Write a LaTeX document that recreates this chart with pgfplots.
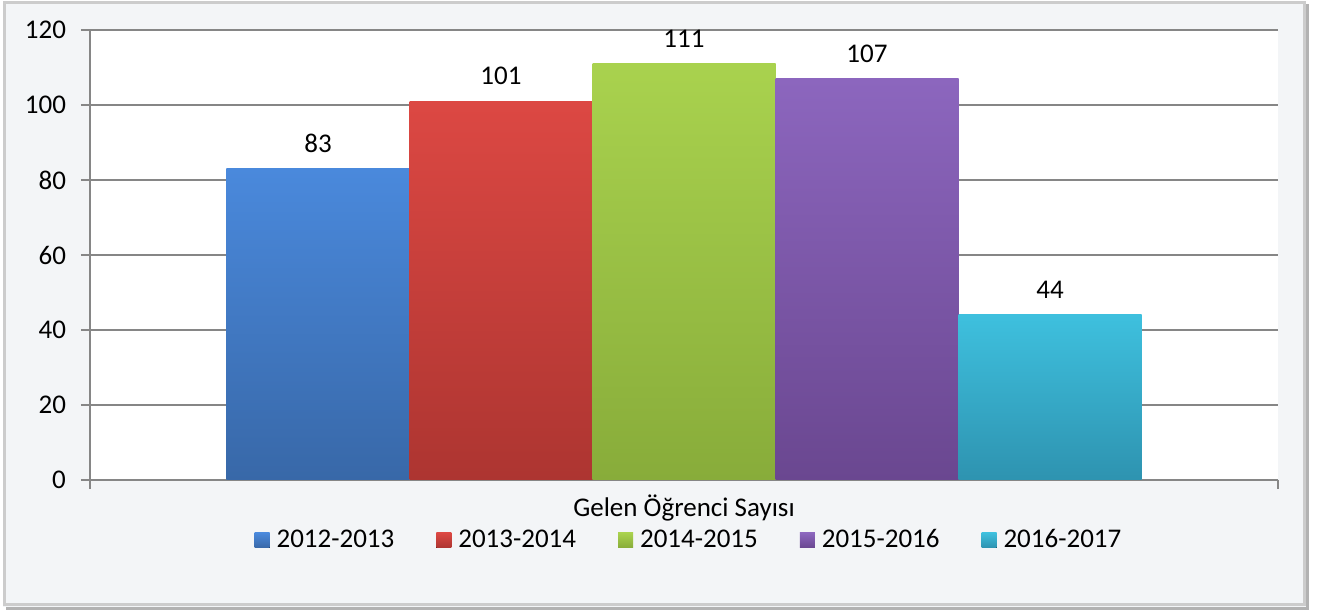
\documentclass[border=0pt]{standalone}
\usepackage{fontspec}
\setmainfont{Carlito}
\usepackage{pgfplots}
\pgfplotsset{compat=1.18}
\definecolor{GridGray}{HTML}{868686}
\definecolor{FrameBg}{HTML}{F3F5F7}
\definecolor{BlueTop}{HTML}{4A89DC}\definecolor{BlueBot}{HTML}{3868A8}
\definecolor{RedTop}{HTML}{DC4843}\definecolor{RedBot}{HTML}{AD3531}
\definecolor{GreenTop}{HTML}{A9D24E}\definecolor{GreenBot}{HTML}{88AC3A}
\definecolor{PurpTop}{HTML}{8C66BE}\definecolor{PurpBot}{HTML}{6A4790}
\definecolor{CyanTop}{HTML}{3EC0DE}\definecolor{CyanBot}{HTML}{2E93B0}
\newcommand{\lbl}{\fontsize{13.5}{15}\selectfont}
\begin{document}
\begin{tikzpicture}
% page and chart frame (1px = 0.5pt, axis origin at px (90,480))
\fill[white] (-45pt,-67.5pt) rectangle (616pt,240pt);
\fill[gray!60] (-42pt,-65pt) rectangle (609.5pt,238pt);
\fill[FrameBg] (-43.5pt,-63.5pt) rectangle (608pt,239pt);
\draw[gray!40, line width=1.5pt] (-42.5pt,-62.5pt) rectangle (607pt,238.5pt);
\begin{axis}[
    scale only axis,
    width=594pt, height=225pt,
    xmin=-1, xmax=1,
    ymin=0, ymax=120,
    ytick={0,20,...,120},
    xtick={0},
    xticklabels={Gelen Öğrenci Sayısı},
    x tick style={draw=none},
    extra x ticks={-1,1},
    extra x tick labels={},
    extra x tick style={x tick style={draw=GridGray, line width=0.75pt}, major tick length=4.5pt, tick pos=left},
    axis lines*=left,
    axis line style={draw=GridGray, line width=0.75pt},
    y tick style={draw=GridGray, line width=0.75pt},
    tick align=outside,
    major tick length=4.5pt,
    ymajorgrids,
    grid style={draw=GridGray, line width=0.75pt},
    axis background/.style={fill=white},
    /pgf/number format/assume math mode=true,
    tick label style={font=\lbl},
    yticklabel style={xshift=-4pt},
    xticklabel style={yshift=0.5pt},
    ybar=0pt,
    bar width=91.5pt,
    nodes near coords,
    every node near coord/.append style={font=\lbl, yshift=4.5pt, text=black},
    legend columns=5,
    legend style={at={(0.505,-0.134)}, anchor=center, draw=none, fill=none,
        font=\lbl, /tikz/every even column/.append style={column sep=19pt},
        /tikz/every odd column/.append style={column sep=1.5pt}},
    legend image code/.code={\fill[#1] (0pt,-3.75pt) rectangle (7.5pt,3.75pt);},
]
\addplot[draw=none, top color=BlueTop, bottom color=BlueBot] coordinates {(0,83)};
\addplot[draw=none, top color=RedTop, bottom color=RedBot] coordinates {(0,101)};
\addplot[draw=none, top color=GreenTop, bottom color=GreenBot] coordinates {(0,111)};
\addplot[draw=none, top color=PurpTop, bottom color=PurpBot] coordinates {(0,107)};
\addplot[draw=none, top color=CyanTop, bottom color=CyanBot] coordinates {(0,44)};
\legend{2012-2013,2013-2014,2014-2015,2015-2016,2016-2017}
\end{axis}
\end{tikzpicture}
\end{document}
